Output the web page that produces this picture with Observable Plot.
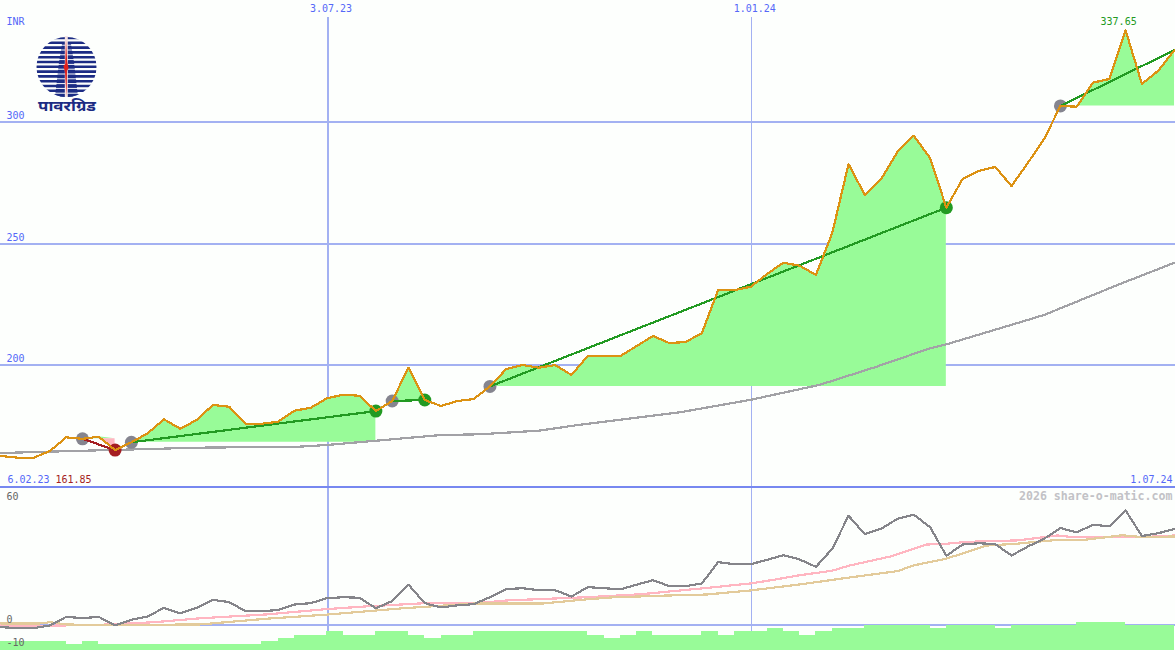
<!DOCTYPE html>
<html><head><meta charset="utf-8">
<script src="https://cdn.jsdelivr.net/npm/d3@7"></script>
<script src="https://cdn.jsdelivr.net/npm/@observablehq/plot@0.6"></script>
<style>
html,body{margin:0;padding:0;background:#fdfffd;overflow:hidden}
#wrap{position:relative;width:1175px;height:650px}
#wrap svg{display:block}
#logo{position:absolute;left:30px;top:30px;width:72px;height:90px}
</style></head><body><div id="wrap"><div id="top"></div><div id="bottom"></div>
<svg id="logo" viewBox="30 30 72 90" xmlns="http://www.w3.org/2000/svg">
<defs><clipPath id="disc"><circle cx="66.5" cy="67" r="30"/></clipPath></defs>
<g clip-path="url(#disc)" stroke="#1c2c84" stroke-width="2.6" id="stripes"></g>
<path d="M62 44 L71 44 L74 62 L78 97 L55 97 L59 62 Z" fill="#1c2c84" clip-path="url(#disc)"/>
<g clip-path="url(#disc)" stroke="#fdfffd" stroke-width="1" id="gaps"></g>
<path d="M64.8 36 L67.8 36 L67.8 97 L64.8 97 Z" fill="#f7e4e4"/>
<path d="M66 40 L67.2 62 L68.6 68 L67 71 L66.5 96 L65 72 L63.4 66 L65.2 64 Z" fill="#e0201c"/>
<text x="67" y="111" text-anchor="middle" textLength="58" lengthAdjust="spacingAndGlyphs" font-family="'Noto Sans','Noto Sans Devanagari','DejaVu Sans',sans-serif" font-weight="700" font-size="15" fill="#1c2c84">पावरग्रिड</text>
</svg></div>
<script>
// Weekly closes in INR, week 0 = left edge
const price = [162.55,161.9,161.85,164.6,170.25,169.65,170.5,165.0,168.2,171.9,177.65,173.8,177.35,183.55,182.85,175.85,175.85,176.65,181.2,182.4,186.3,187.8,187.35,181.05,185.2,198.9,185.6,183.15,185.2,186.0,191.2,198.35,200,198.9,200,195.9,203.7,203.7,203.7,207.8,211.95,209.05,209.45,213.15,230.85,230.85,232.2,237.45,242.1,240.85,237.05,254.3,282.7,269.95,276.55,287.65,294.35,285.2,264.75,276.55,279.85,281.5,273.65,283.15,293,306.6,306.3,316.2,317.7,337.65,315.65,321.1,329.6];
// Long moving average, read at knots
const maWeeks = [0,6,12.2,18.3,20,23,27,29.4,33,35.5,41.6,46,50.2,53.6,57,58,64,68.6,72];
const maValues = [163.8,164.9,166,166.4,167.1,168.85,171.2,171.5,173,175.4,180.5,185.7,191.8,199.05,206.9,208.5,220.6,233.2,242.1];
// Trades: entry and exit week
const tradeStart = [5,8,24,30,65];
const tradeEnd = [7,23,26,58,72];
// Lower panel
const momentum = [-0.8,-1.3,-1.3,0,4.2,3.6,4.2,0,2.8,4.4,8.6,5.9,8.6,12.5,11.4,7,7,7.5,10.2,10.9,13.3,13.8,13.5,8.4,11.9,19.9,10.9,8.8,9.8,10.4,13.8,17.7,18.2,17.2,17.2,14.1,18.7,18.2,17.6,19.9,22.1,19.2,19.2,20.5,30.9,29.9,29.9,32,34.3,32.2,28.6,37.4,53.5,44.5,47.2,52,54,48,34,39.5,40.1,39.7,34.1,38.5,42.3,47.5,45.4,49.1,48.4,56.1,43.6,45,47];
const pinkWeeks = [0,3,6,9.4,12.2,16.3,20,22.4,24.5,26.5,29,31,36,39.2,42.9,46,47.5,49,51,52,54.6,56.8,57.8,59.3,62.4,64.8,65.9,70,72];
const pinkValues = [0,-0.1,0.3,1.6,3.5,5.4,8,9.3,10.2,11.1,10.7,12.2,13.8,15.2,18,20.5,22.4,24.5,26.7,29.1,33.7,39.5,39.7,40.8,41.5,43.9,43,43.1,43.9];
const tanWeeks = [0,2.4,3,4,6,12.2,16.3,20,24.5,29,30.6,33.2,36,37.5,40.8,43.3,46,49,51.6,55,56,58,60.5,62.2,64.5,66.5,68.8,70,72];
const tanValues = [1,1,1.6,0.5,0.2,0.5,3.3,5.3,8.3,10.7,10.7,10.7,12.8,13.7,14.6,15.1,17.1,20,22.9,26.5,29.3,32.6,39,39.8,41.5,41.8,44,43.1,43.4];
const volume = [-7.8,-7.8,-7.8,-7.8,-9.3,-7.8,-9.3,-9.3,-9.3,-9.3,-9.3,-9.3,-9.3,-9.3,-9.3,-9.3,-7.8,-6.3,-4.9,-4.9,-2.9,-4.9,-4.9,-2.9,-2.9,-4.9,-6.3,-4.9,-4.9,-2.9,-2.9,-2.9,-2.9,-2.9,-2.9,-2.9,-4.9,-6.3,-4.9,-2.9,-4.9,-4.9,-4.9,-2.9,-4.9,-2.9,-2.9,-1.5,-2.9,-4.9,-2.9,-1.5,-1.5,0,0,0,0,-1.5,0,0,0,-1.5,0,0,0,0,1.5,1.5,1.5,0,0,0];
// Axis labels
const priceTicks = [200,250,300];
const panelTicks = [0,60];
const dateWeeks = [20,46];
const dateLabels = ["3.07.23","1.01.24"];

const mono = "'DejaVu Sans Mono',monospace";
const blue = "#5568f8", grid = "#a3b1f2", pale = "#98fb98", pink = "#ffb6c1";
const orange = "#dc9213", green = "#229a22", red = "#a41e22", gray = "#85858f";
const crisp = {shapeRendering:"crispEdges"};
const week = (d,i)=>i, val = d=>d;
const zip = (a,b)=>a.map((w,i)=>({w,v:b[i]}));
const xScale = {type:"linear",domain:[-0.03,72.06],range:[0,1175],axis:null};
const trades = tradeStart.map((s,k)=>({s,e:tradeEnd[k]}));
const seg = t=>d3.range(t.s,t.e+1).map(w=>({w,base:price[t.s],p:price[w]}));
const win = trades.filter(t=>t.s!==5).flatMap(t=>seg(t).map(d=>({...d,t:t.s})));
const loss = seg(trades[0]);
const lines = trades.flatMap(t=>[{w:t.s,p:price[t.s],t:t.s},{w:t.e,p:price[t.e],t:t.s}]);
const exits = trades.slice(0,4).map(t=>({w:t.e,p:price[t.e],c:t.s===5?red:green}));

const topPlot = Plot.plot({
  width:1175,height:488,margin:0,x:xScale,
  y:{type:"linear",domain:[149.4,350.2],range:[487.5,-0.5],axis:null},
  style:{background:"transparent",fontFamily:mono,fontSize:"10px"},
  marks:[
    Plot.ruleY(priceTicks,{stroke:grid,strokeWidth:2,...crisp}),
    Plot.ruleX([dateWeeks[0]],{y1:149.4,y2:343.2,dx:1,stroke:grid,strokeWidth:2,...crisp}),
    Plot.ruleX([dateWeeks[1]],{y1:149.4,y2:343.2,dx:1,stroke:grid,strokeWidth:1,...crisp}),
    Plot.ruleY([149.8],{stroke:"#7788f0",strokeWidth:2,...crisp}),
    Plot.areaY(win,{x:"w",y1:"base",y2:d=>Math.max(d.base,d.p),z:"t",fill:pale}),
    Plot.areaY(loss,{x:"w",y1:"base",y2:d=>Math.max(d.base,d.p),fill:pale}),
    Plot.areaY(loss,{x:"w",y1:"base",y2:d=>Math.min(d.base,d.p),fill:pink}),
    Plot.line(zip(maWeeks,maValues),{x:"w",y:"v",stroke:"#a2a2a6",strokeWidth:2.2,...crisp}),
    Plot.dot(trades,{x:"s",y:d=>price[d.s],r:6.5,fill:gray,stroke:"none"}),
    Plot.dot(exits,{x:"w",y:"p",r:6.5,fill:"c",stroke:"none"}),
    Plot.line(lines,{x:"w",y:"p",z:"t",stroke:d=>d.t===5?red:green,strokeWidth:2.2,...crisp}),
    Plot.line(price,{x:week,y:val,stroke:orange,strokeWidth:2.2,...crisp}),
    Plot.axisY(priceTicks,{anchor:"left",tickSize:0,tickPadding:0,textAnchor:"start",dx:6,dy:-6,fill:blue,label:null,tickFormat:d=>String(d)}),
    Plot.axisX(dateWeeks,{anchor:"top",tickSize:0,tickPadding:0,dx:4,dy:11,fill:blue,label:null,tickFormat:d=>dateLabels[dateWeeks.indexOf(d)]}),
    Plot.text(["INR"],{frameAnchor:"top-left",dx:6,dy:17,fill:blue}),
    Plot.text(["6.02.23"],{frameAnchor:"bottom-left",dx:7,dy:-6,fill:blue}),
    Plot.text(["161.85"],{frameAnchor:"bottom-left",dx:55,dy:-6,fill:red}),
    Plot.text(["1.07.24"],{frameAnchor:"bottom-right",dx:-3,dy:-6,fill:blue}),
    Plot.text(["337.65"],{x:[69],y:[337.65],dx:-7,dy:-9,fill:green})
  ]
});
document.getElementById("top").append(topPlot);

const bottomPlot = Plot.plot({
  width:1175,height:162,margin:0,x:xScale,
  y:{type:"linear",domain:[-12.2,66.8],range:[162,0],axis:null},
  style:{background:"transparent",fontFamily:mono,fontSize:"10px"},
  marks:[
    Plot.ruleY([0],{stroke:grid,strokeWidth:2,...crisp}),
    Plot.ruleX([dateWeeks[0]],{dx:1,stroke:grid,strokeWidth:2,...crisp}),
    Plot.ruleX([dateWeeks[1]],{dx:1,stroke:grid,strokeWidth:1,...crisp}),
    Plot.rectY(volume,{x1:(d,i)=>i===0?-0.09:i,x2:(d,i)=>i+1,y1:-12.2,y2:val,fill:pale,...crisp}),
    Plot.line(zip(pinkWeeks,pinkValues),{x:"w",y:"v",stroke:pink,strokeWidth:2.2,...crisp}),
    Plot.line(zip(tanWeeks,tanValues),{x:"w",y:"v",stroke:"#e3cb9b",strokeWidth:2.2,...crisp}),
    Plot.line(momentum,{x:week,y:val,stroke:"#85858a",strokeWidth:2.2,...crisp}),
    Plot.axisY(panelTicks,{anchor:"left",tickSize:0,tickPadding:0,textAnchor:"start",dx:6,dy:-6,fill:"#666",label:null,tickFormat:d=>String(d)}),
    Plot.text(["-10"],{y:[-10],frameAnchor:"left",textAnchor:"start",dx:6,dy:-3,fill:"#666"}),
    Plot.text(["2026 share-o-matic.com"],{frameAnchor:"top-right",dx:-3,dy:3,fill:"#c2c2c6",fontSize:11.6,fontWeight:700})
  ]
});
document.getElementById("bottom").append(bottomPlot);

const svgNS = "http://www.w3.org/2000/svg";
const addLines = (id,ys)=>ys.forEach(y=>{
  const l=document.createElementNS(svgNS,"line");
  l.setAttribute("x1",30);l.setAttribute("x2",100);l.setAttribute("y1",y);l.setAttribute("y2",y);
  document.getElementById(id).append(l);
});
addLines("stripes",d3.range(38,98,4.8));
addLines("gaps",d3.range(40.4,98,4.8));
</script></body></html>
